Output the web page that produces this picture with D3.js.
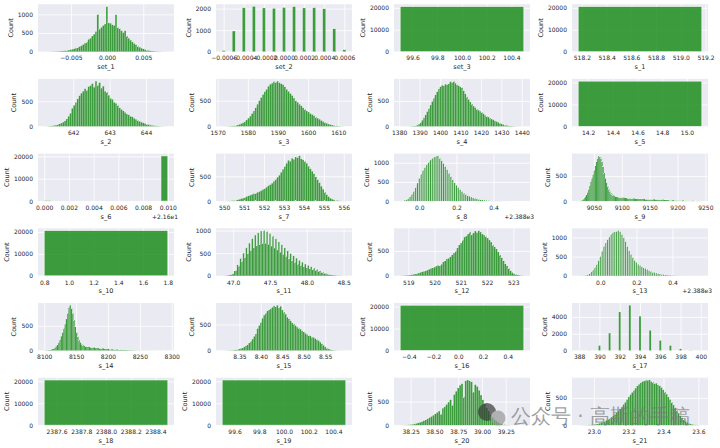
<!DOCTYPE html>
<html><head><meta charset="utf-8">
<script src="https://cdn.jsdelivr.net/npm/d3@7"></script>
<style>body{margin:0;background:#fff}svg{display:block}text{font-family:"DejaVu Sans",sans-serif}</style>
</head><body><svg id="c" width="720" height="448"></svg>
<script>
// ---------- data (bin counts) ----------
const set_1_counts=[1,0,2,2,4,5,7,9,12,16,21,27,33,42,52,64,78,96,112,135,160,190,230,260,330,360,420,470,540,1000,600,650,700,740,1210,770,760,720,700,990,650,610,560,510,560,420,360,310,260,220,185,150,120,95,75,58,44,33,24,18,12,9,6,4,3,2,1,1];
const set_2_counts=[50,960,2040,2100,2030,2010,2050,2090,2030,2040,1990,1060,90];
const set_3_counts=[20631];
const s_1_counts=[20631];
const s_2_counts=[1,2,4,7,12,18,26,38,50,66,85,110,150,200,260,360,420,480,550,610,660,700,750,720,790,810,850,780,900,820,870,760,800,700,680,620,560,540,480,460,420,370,340,310,280,250,230,200,190,160,140,120,100,85,70,58,45,35,26,19,14,10,7,5,3,2,1,1];
const s_3_counts=[1,1,2,3,5,8,12,18,27,38,52,70,95,125,160,200,250,300,360,430,500,560,620,680,720,780,820,840,870,860,880,850,830,810,770,720,680,640,600,550,500,470,430,400,360,330,300,280,250,230,210,180,160,140,115,95,78,60,46,35,26,18,12,8,5,3,2,1];
const s_4_counts=[0,0,1,1,1,2,3,5,8,14,25,45,80,120,170,230,290,350,420,490,560,620,680,740,780,810,800,830,820,840,880,860,890,850,820,800,780,760,700,640,580,530,480,440,400,370,340,320,300,280,250,220,200,185,165,145,130,110,95,80,65,50,38,28,20,14,10,7,5,3,2,1,1,0,1];
const s_5_counts=[20631];
const s_6_counts=[406,0,0,0,0,0,0,0,0,0,0,0,0,0,0,0,0,20225];
const s_7_counts=[1,1,2,3,5,8,12,18,25,35,48,60,75,90,105,120,135,150,160,175,190,210,235,255,280,310,330,360,400,440,480,520,580,640,700,760,820,800,860,840,890,870,910,850,830,800,760,700,650,600,550,490,430,370,300,240,180,130,90,60,40,26,16,10,6,3,2,1];
const s_8_counts=[2,5,15,30,60,110,180,260,360,470,590,700,800,880,960,1020,1070,1110,1150,1170,1180,1120,1060,980,900,820,730,640,560,480,410,350,300,250,210,180,150,125,105,88,72,60,50,40,32,25,20,15,11,8,6,5,4,3,2,2,1,1,1,0,1,0,0,1,0,0,1];
const s_9_counts=[5,8,14,22,34,55,85,125,180,240,310,390,460,530,610,700,790,850,900,880,850,780,680,560,450,370,300,240,195,160,135,118,105,96,90,85,80,77,74,72,70,68,66,64,62,60,58,57,55,54,52,51,50,49,48,47,46,45,44,43,42,41,40,40,39,38,37,36,35,35,34,33,32,31,31,30,29,28,27,26,25,24,23,22,21,21,20,19,18,17,16,15,14,14,13,12,11,10,10,9,8,7,7,6,5,4,4,3,2,2,1];
const s_10_counts=[20631];
const s_11_counts=[1,1,4,6,14,18,40,43,110,115,240,216,380,317,500,403,620,490,720,562,820,619,900,662,950,698,990,720,1000,713,980,691,940,655,880,612,820,569,750,518,690,468,620,425,560,374,490,331,440,295,390,259,340,230,300,202,260,176,230,155,200,133,170,112,140,90,110,68,80,48,55,32,36,20,20,10,10,4,4,2,2,1,1,1];
const s_12_counts=[2,3,5,7,10,14,20,28,36,45,55,66,78,90,100,115,130,150,160,175,195,210,200,230,280,300,340,350,380,420,460,500,560,620,660,720,780,800,840,880,820,860,900,870,910,880,840,820,790,760,720,680,620,580,540,480,420,360,300,240,200,150,100,65,40,30,18,10,5,2];
const s_13_counts=[1,1,2,4,10,30,60,100,150,220,300,400,500,640,770,860,950,1010,1080,1130,1150,1170,1180,1150,1080,1000,900,760,650,560,480,410,350,300,270,240,210,190,165,140,120,100,85,72,60,50,40,32,25,19,14,10,8,6,4,3,2,2,1,1,1,0,1,0,0,1,0,0,1];
const s_14_counts=[2,3,5,8,12,18,28,40,58,85,120,165,220,290,370,450,540,640,760,880,920,860,760,620,480,370,280,210,160,130,110,96,88,82,76,72,68,64,61,58,56,53,51,48,46,44,42,40,37,35,33,31,29,27,25,23,21,19,17,15,13,12,11,10,9,8,7,6,5,4,3,3,2,2,2,1,1,1,1,0,1,0,1,0,1,0,0,1,0,0,0,1,0,0,0,0,1];
const s_15_counts=[0,1,1,2,3,4,6,9,14,20,30,40,52,68,90,115,145,180,220,270,320,420,480,540,620,680,720,760,780,800,830,860,840,870,820,850,780,740,700,640,610,570,530,510,480,450,430,410,380,360,330,310,290,280,260,250,230,210,190,160,130,100,70,45,30,18,10,6,4,2,1,1,0,1,0];
const s_16_counts=[20631];
const s_17_counts=[5,20,590,2080,4600,5400,4100,2400,1200,590,200,30,5];
const s_18_counts=[20631];
const s_19_counts=[20631];
const s_20_counts=[1,2,3,5,8,12,18,25,35,48,60,75,95,115,135,160,185,210,240,270,300,230,360,400,440,490,540,420,650,720,790,850,880,600,940,960,940,920,700,860,820,740,640,540,450,370,300,230,170,125,90,62,40,25,15,7,4,3,2,1,1,1,0,0,1];
const s_21_counts=[1,1,2,2,3,4,6,8,11,15,20,27,35,45,58,72,88,105,125,148,172,200,230,262,300,340,380,420,470,520,560,600,640,680,720,750,780,800,810,830,820,830,800,790,760,770,740,720,690,650,610,570,520,470,420,370,320,270,220,175,135,100,72,50,34,22,14,8,5,3,2,1];

const names=["set_1","set_2","set_3","s_1","s_2","s_3","s_4","s_5","s_6","s_7","s_8","s_9","s_10","s_11","s_12","s_13","s_14","s_15","s_16","s_17","s_18","s_19","s_20","s_21"];
const counts=[set_1_counts,set_2_counts,set_3_counts,s_1_counts,s_2_counts,s_3_counts,s_4_counts,s_5_counts,s_6_counts,s_7_counts,s_8_counts,s_9_counts,s_10_counts,s_11_counts,s_12_counts,s_13_counts,s_14_counts,s_15_counts,s_16_counts,s_17_counts,s_18_counts,s_19_counts,s_20_counts,s_21_counts];
// bin range (low edge, high edge) of each histogram
const binLo=[-0.0087,-0.00065,99.5,518.17,641.2,1571.5,1380.5,14.12,0,549.9,-0.105,9021.7,0.8,46.85,518.69,-0.125,8099.9,8.31,-0.47,387.5,2387.5,99.5,38.14,22.91];
const binHi=[0.0084,0.00065,100.5,519.17,644.6,1612.5,1441,15.12,0.01,556.1,0.565,9243.7,1.8,48.53,523.4,0.565,8293.9,8.598,0.53,400.5,2388.5,100.5,39.44,23.62];
const xTickLabels=[
 ["−0.005","0.000","0.005"],
 ["−0.0006","−0.0004","−0.0002","0.0000","0.0002","0.0004","0.0006"],
 ["99.6","99.8","100.0","100.2","100.4"],
 ["518.2","518.4","518.6","518.8","519.0","519.2"],
 ["642","643","644"],
 ["1570","1580","1590","1600","1610"],
 ["1380","1390","1400","1410","1420","1430","1440"],
 ["14.2","14.4","14.6","14.8","15.0"],
 ["0.000","0.002","0.004","0.006","0.008","0.010"],
 ["550","551","552","553","554","555","556"],
 ["0.0","0.2","0.4"],
 ["9050","9100","9150","9200","9250"],
 ["0.8","1.0","1.2","1.4","1.6","1.8"],
 ["47.0","47.5","48.0","48.5"],
 ["519","520","521","522","523"],
 ["0.0","0.2","0.4"],
 ["8100","8150","8200","8250","8300"],
 ["8.35","8.40","8.45","8.50","8.55"],
 ["−0.4","−0.2","0.0","0.2","0.4"],
 ["388","390","392","394","396","398","400"],
 ["2387.6","2387.8","2388.0","2388.2","2388.4"],
 ["99.6","99.8","100.0","100.2","100.4"],
 ["38.25","38.50","38.75","39.00","39.25"],
 ["23.0","23.2","23.4","23.6"]];
const yTicks=[[0,500,1000],[0,1000,2000],[0,10000,20000],[0,10000,20000],[0,500],[0,500],[0,500],[0,10000,20000],[0,10000,20000],[0,500],[0,500,1000],[0,500],[0,10000,20000],[0,500,1000],[0,500],[0,500,1000],[0,500],[0,500],[0,10000,20000],[0,2000,4000],[0,10000,20000],[0,10000,20000],[0,500],[0,500]];
const offsetLabels={s_6:"+2.16e1",s_8:"+2.388e3",s_13:"+2.388e3"};
const barFrac={set_2:0.3,s_8:0.65,s_13:0.6,s_17:0.2};

// ---------- layout ----------
const svg=d3.select("#c");
const colL=[38,216,394,572], W=136;
const rowT=[4.2,78.9,153.6,228.3,303,377.7], H=47.5;
const ink="#262626";

names.forEach((name,k)=>{
  const c=k%4, r=Math.floor(k/4);
  const g=svg.append("g").attr("transform",`translate(${colL[c]},${rowT[r]})`);
  const cs=counts[k], n=cs.length, bw=(binHi[k]-binLo[k])/n, fr=barFrac[name]||1;
  const bars=cs.map((v,i)=>({x0:binLo[k]+bw*i+bw*(1-fr)/2,x1:binLo[k]+bw*(i+1)-bw*(1-fr)/2,n:v}));
  const xmin=bars[0].x0, xmax=bars[n-1].x1, pad=(xmax-xmin)*0.05;
  const x=d3.scaleLinear().domain([xmin-pad,xmax+pad]).range([0,W]);
  const y=d3.scaleLinear().domain([0,d3.max(cs)*1.05]).range([H,0]);
  g.append("rect").attr("width",W).attr("height",H).attr("fill","#eaeaf2");
  const tl=xTickLabels[k];
  const tv=tl.map(s=>+s.replace("−","-"));
  const xa=g.append("g").attr("transform",`translate(0,${H})`)
    .call(d3.axisBottom(x).tickValues(tv).tickSize(-H).tickPadding(4.5).tickFormat((d,i)=>tl[i]));
  const ya=g.append("g")
    .call(d3.axisLeft(y).tickValues(yTicks[k]).tickSize(-W).tickPadding(5).tickFormat(d3.format("d")));
  [xa,ya].forEach(a=>{
    a.select(".domain").remove();
    a.selectAll("line").attr("stroke","#fff").attr("stroke-width",0.8);
    a.selectAll("text").attr("fill",ink).attr("font-size",6).attr("font-family","DejaVu Sans");
  });
  // bars
  g.append("g").selectAll("rect").data(bars.filter(b=>b.n>0)).join("rect")
    .attr("x",b=>x(b.x0)).attr("width",b=>Math.max(0.1,x(b.x1)-x(b.x0)))
    .attr("y",b=>y(b.n)).attr("height",b=>H-y(b.n))
    .attr("fill","green").attr("fill-opacity",0.75)
    .attr("stroke","#fff").attr("stroke-opacity",0.75)
    .attr("stroke-width",b=>Math.min(0.8,(x(b.x1)-x(b.x0))*0.12));
  // labels
  g.append("text").attr("x",W/2).attr("y",H+17.5).attr("text-anchor","middle")
    .attr("font-size",6.5).attr("fill",ink).text(name);
  let mw=0; ya.selectAll("text").each(function(){mw=Math.max(mw,this.getBBox().width);});
  g.append("text").attr("transform",`translate(${-5-mw-5},${H/2}) rotate(-90)`)
    .attr("text-anchor","middle").attr("font-size",6.5).attr("fill",ink).text("Count");
  if(offsetLabels[name]) g.append("text").attr("x",W+4).attr("y",H+17.5).attr("text-anchor","end")
    .attr("font-size",6).attr("fill",ink).text(offsetLabels[name]);
});

// watermark
const wm=svg.append("g").attr("opacity",0.7);
wm.append("circle").attr("cx",487).attr("cy",412).attr("r",9).attr("fill","#3a3a3a");
wm.append("circle").attr("cx",498).attr("cy",418).attr("r",7.5).attr("fill","#999");
wm.append("text").attr("x",511).attr("y",423).attr("font-size",20)
  .attr("font-family","Noto Sans CJK SC").attr("fill","#7a7a7a").text("公众号 · 高斯的手稿");
</script></body></html>
